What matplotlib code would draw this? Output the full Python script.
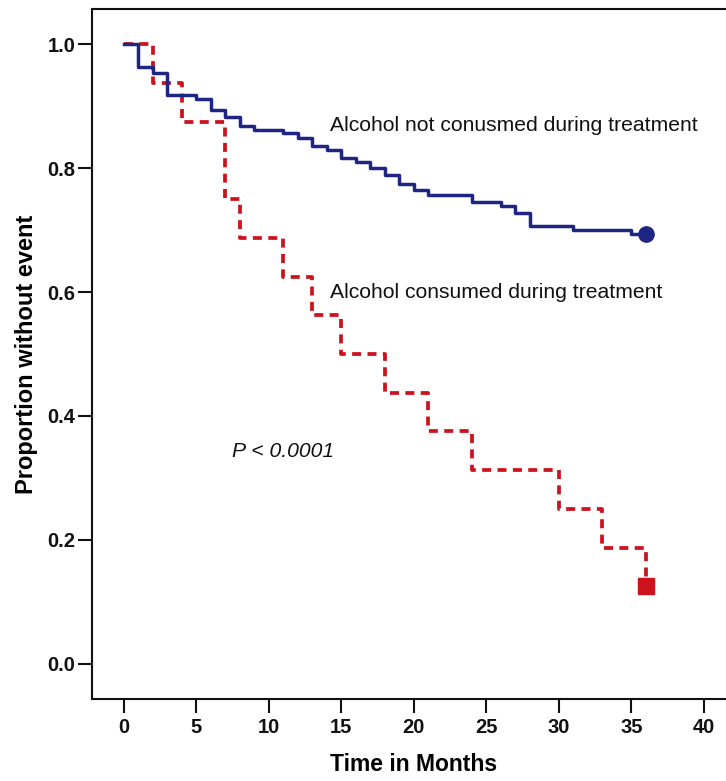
import matplotlib
matplotlib.use("Agg")
import matplotlib.pyplot as plt

# ---- data ----
blue_time = [0, 1, 2, 3, 5, 6, 7, 8, 9, 11, 12, 13, 14, 15, 16, 17, 18, 19, 20,
             21, 24, 26, 27, 28, 31, 35, 36]
blue_surv = [1.0, 0.963, 0.953, 0.918, 0.912, 0.894, 0.883, 0.868, 0.862, 0.856,
             0.848, 0.835, 0.829, 0.816, 0.810, 0.800, 0.789, 0.775, 0.765, 0.757,
             0.745, 0.739, 0.727, 0.707, 0.700, 0.694, 0.694]
red_time = [0, 2, 4, 7, 8, 11, 13, 15, 18, 21, 24, 30, 33, 36]
red_surv = [1.0, 0.9375, 0.875, 0.75, 0.6875, 0.625, 0.5625, 0.5, 0.4375, 0.375,
            0.3125, 0.25, 0.1875, 0.125]
x_ticks = [0, 5, 10, 15, 20, 25, 30, 35, 40]
y_ticks = [0.0, 0.2, 0.4, 0.6, 0.8, 1.0]
label_blue = "Alcohol not conusmed during treatment"
label_red = "Alcohol consumed during treatment"
p_text = "P < 0.0001"

plt.rcParams['font.family'] = ['Liberation Sans', 'DejaVu Sans']

W, H = 726, 781
fig = plt.figure(figsize=(W / 100, H / 100), dpi=100)
left_px, bottom_px, top_px = 92, 699, 9
ax_w_px = 44.4 * 14.5
ax = fig.add_axes([left_px / W, (H - bottom_px) / H, ax_w_px / W, (bottom_px - top_px) / H])

red_c = '#cc121c'
blue_c = '#1f2583'

ax.step(red_time, red_surv, where='post', color=red_c, lw=2.7,
        linestyle=(0, (2.4, 1.7)), zorder=2)
ax.plot(red_time[-1], red_surv[-1], marker='s', color=red_c, markersize=11.5,
        linestyle='none', zorder=4)
ax.step(blue_time, blue_surv, where='post', color=blue_c, lw=2.5, zorder=3)
ax.plot(blue_time[-1], blue_surv[-1], marker='o', color=blue_c, markersize=11,
        linestyle='none', zorder=4)

ax.set_xlim(-2.2, 42.2)
ax.set_ylim(-0.0565, 1.0565)
ax.set_xticks(x_ticks)
ax.set_yticks(y_ticks)
ax.set_xticklabels([str(v) for v in x_ticks], fontsize=14.5, fontweight='bold')
ax.set_yticklabels([f"{v:.1f}" for v in y_ticks], fontsize=14.5, fontweight='bold')
ax.tick_params(direction='out', length=10, width=1.5, pad=2, colors='#111111')
ax.tick_params(axis='x', pad=4)
for s in ['left', 'top', 'bottom']:
    ax.spines[s].set_linewidth(1.5)
    ax.spines[s].set_color('#111111')
ax.spines['right'].set_visible(False)

ax.set_xlabel("Time in Months", fontsize=16.5, fontweight='bold', labelpad=11)
ax.set_ylabel("Proportion without event", fontsize=17, fontweight='bold', labelpad=7)

ax.text(14.2, 0.869, label_blue, fontsize=15.2, va='center', ha='left', color='#111111')
ax.text(14.2, 0.600, label_red, fontsize=15.2, va='center', ha='left', color='#111111')
ax.text(7.45, 0.3435, p_text, fontsize=15.2, va='center', ha='left', style='italic',
        color='#111111')

fig.savefig("out.png", dpi=100)
